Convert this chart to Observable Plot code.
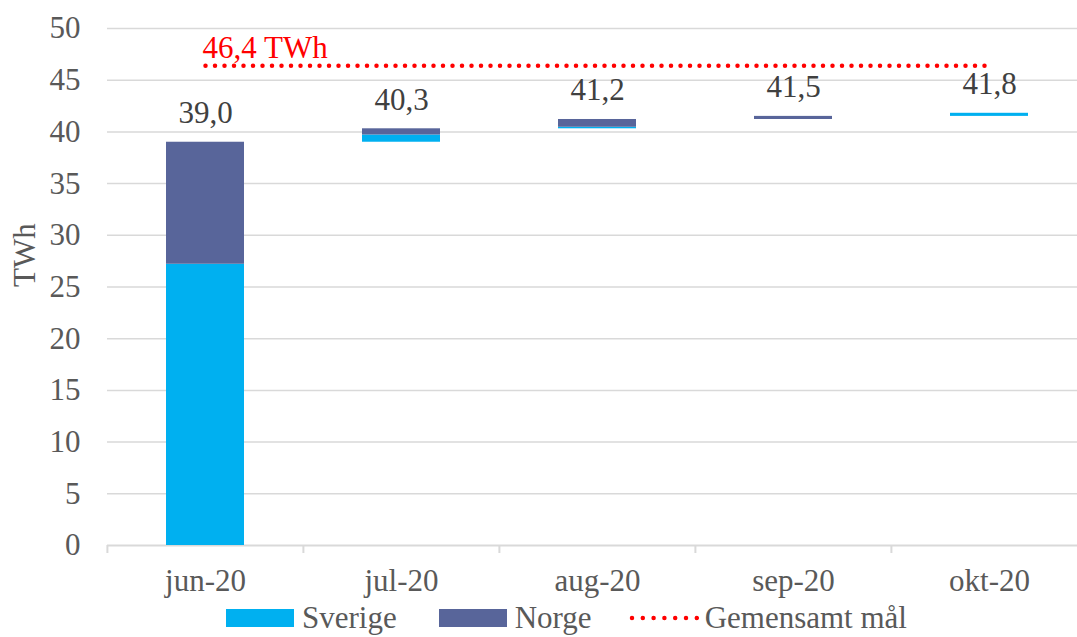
<!DOCTYPE html>
<html>
<head>
<meta charset="utf-8">
<script src="https://cdn.jsdelivr.net/npm/d3@7"></script>
<script src="https://cdn.jsdelivr.net/npm/@observablehq/plot@0.6"></script>
<style>
  html, body { margin: 0; padding: 0; background: #fff; overflow: hidden; }
  #wrap { position: relative; width: 1077px; height: 637px; overflow: hidden; font-family: "Liberation Serif", "Times New Roman", serif; }
  #chart { position: absolute; left: 0; top: 0; width: 1088px; }
  #chart svg { max-width: none !important; }
  #legend { position: absolute; left: 226px; top: 602px; display: flex; align-items: center; font-size: 31px; color: #595959; line-height: 31px; white-space: nowrap; }
  .item { display: flex; align-items: center; }
  .sw { width: 68px; height: 18px; margin-right: 8px; }
</style>
</head>
<body>
<div id="wrap">
  <div id="chart"></div>
  <div id="legend"></div>
</div>
<script>
const months = ["jun-20", "jul-20", "aug-20", "sep-20", "okt-20"];
const sverige = [27.2, 0.7, 0.15, 0, 0.3];
const norge = [11.8, 0.6, 0.75, 0.3, 0];
const target = 46.4;
const targetLabel = "46,4 TWh";
const yTicks = [0, 5, 10, 15, 20, 25, 30, 35, 40, 45, 50];
const seriesNames = ["Sverige", "Norge", "Gemensamt mål"];
const colors = {Sverige: "#00B0F0", Norge: "#58659A", target: "#FF0000"};

// waterfall build
const bars = [];
const totals = [];
let base = 0;
months.forEach((m, i) => {
  const s0 = base, s1 = base + sverige[i];
  const n0 = s1, n1 = s1 + norge[i];
  bars.push({month: m, series: "Sverige", y1: s0, y2: s1});
  bars.push({month: m, series: "Norge", y1: n0, y2: n1});
  base = n1;
  totals.push({month: m, total: +base.toFixed(1)});
});
const targetLine = months.map(m => ({month: m, v: target}));

const W = 1088, H = 605, ML = 107, MR = 0, MT = 28, MB = 60;
const step = (W - ML - MR) / months.length;

const plot = Plot.plot({
  width: W,
  height: H,
  marginLeft: ML,
  marginRight: MR,
  marginTop: MT,
  marginBottom: MB,
  style: {fontFamily: "'Liberation Serif', 'Times New Roman', serif", fontSize: "31px", background: "#fff", overflow: "visible", maxWidth: "none"},
  x: {domain: months, paddingInner: 0.6, paddingOuter: 0.3, label: null},
  y: {domain: [0, 50], label: null},
  marks: [
    Plot.ruleY(yTicks.filter(d => d > 0), {stroke: "#d9d9d9", strokeWidth: 1.5}),
    Plot.ruleY([0], {stroke: "#d9d9d9", strokeWidth: 2}),
    Plot.ruleX(months, {x: d => d, dx: -step / 2, y1: 0, y2: 0, insetBottom: -8, stroke: "#d9d9d9", strokeWidth: 2}),
    Plot.barY(bars, {x: "month", y1: "y1", y2: "y2", fill: d => colors[d.series]}),
    Plot.line(targetLine, {x: "month", y: "v", stroke: colors.target, strokeWidth: 4.5, strokeDasharray: "0,9.5", strokeLinecap: "round"}),
    Plot.text([targetLabel], {x: () => months[0], y: () => target, text: d => d, textAnchor: "start", lineAnchor: "bottom", dx: -3, dy: -8, fill: colors.target, fontSize: 31}),
    Plot.text(totals, {x: "month", y: "total", text: d => d.total.toFixed(1).replace(".", ","), lineAnchor: "bottom", dy: -19, fill: "#404040", fontSize: 31}),
    Plot.axisY({ticks: yTicks, tickSize: 0, tickPadding: 27, fill: "#595959", fontSize: 31, label: null}),
    Plot.axisX({tickSize: 0, tickPadding: 23, fill: "#595959", fontSize: 31, label: null}),
    Plot.text(["TWh"], {frameAnchor: "left", text: d => d, rotate: -90, dx: -82, fill: "#595959", fontSize: 31})
  ]
});
plot.style.maxWidth = "none";
document.getElementById("chart").appendChild(plot);

// legend
const legend = document.getElementById("legend");
const gaps = [42, 37, 0];
seriesNames.forEach((name, i) => {
  const item = document.createElement("div");
  item.className = "item";
  item.style.marginRight = gaps[i] + "px";
  if (name === "Gemensamt mål") {
    const svgNS = "http://www.w3.org/2000/svg";
    const s = document.createElementNS(svgNS, "svg");
    s.setAttribute("width", 70); s.setAttribute("height", 18);
    s.style.marginRight = "6px";
    const l = document.createElementNS(svgNS, "line");
    l.setAttribute("x1", 3); l.setAttribute("x2", 68); l.setAttribute("y1", 9); l.setAttribute("y2", 9);
    l.setAttribute("stroke", colors.target); l.setAttribute("stroke-width", 4.5);
    l.setAttribute("stroke-dasharray", "0,10.8"); l.setAttribute("stroke-linecap", "round");
    s.appendChild(l);
    item.appendChild(s);
  } else {
    const sw = document.createElement("div");
    sw.className = "sw";
    sw.style.background = colors[name];
    item.appendChild(sw);
  }
  const t = document.createElement("span");
  t.textContent = name;
  item.appendChild(t);
  legend.appendChild(item);
});
</script>
</body>
</html>
